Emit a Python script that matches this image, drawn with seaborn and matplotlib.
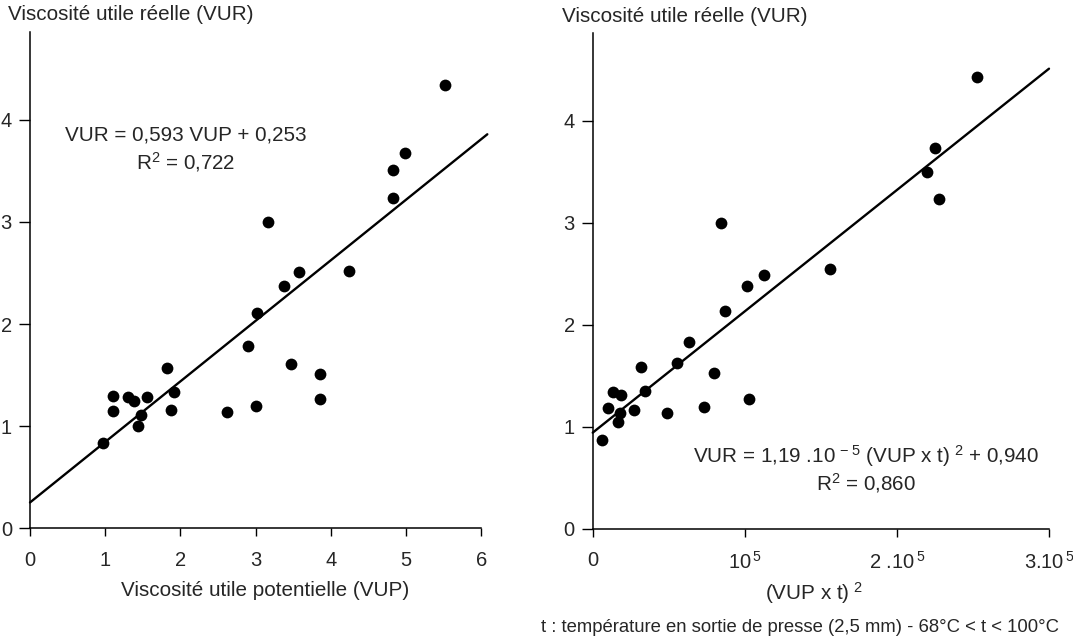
import numpy as np
import pandas as pd
import matplotlib
matplotlib.use("Agg")
import matplotlib.pyplot as plt
import seaborn as sns

# ---- data ----
vup = [0.97, 1.1, 1.1, 1.3, 1.38, 1.43, 1.48, 1.55, 1.82, 1.88, 1.92, 2.62, 2.9,
       3.0, 3.02, 3.17, 3.38, 3.47, 3.57, 3.85, 3.86, 4.24, 4.82, 4.83, 4.99, 5.52]
vur_left = [0.84, 1.30, 1.15, 1.29, 1.25, 1.0, 1.11, 1.29, 1.57, 1.16, 1.33, 1.14, 1.79,
            1.2, 2.11, 3.0, 2.37, 1.61, 2.51, 1.51, 1.27, 2.52, 3.51, 3.23, 3.68, 4.34]

vupt2 = [6100, 10300, 13600, 16400, 18400, 18000, 27000, 32000, 34600, 49100, 55200,
         63100, 73200, 80000, 87200, 84600, 101600, 102600, 112800, 155800, 219600,
         224800, 227500, 252500]
vur_right = [0.87, 1.18, 1.34, 1.04, 1.31, 1.13, 1.16, 1.58, 1.35, 1.13, 1.62, 1.83,
             1.19, 1.53, 2.13, 3.0, 2.38, 1.27, 2.49, 2.55, 3.5, 3.73, 3.23, 4.43]

slope_left, intercept_left = 0.593, 0.253
slope_right, intercept_right = 1.19e-5, 0.940
fit_range_left = [0, 6.08]
fit_range_right = [0, 3.0e5]

left_xticks = [0, 1, 2, 3, 4, 5, 6]
left_xticklabels = ["0", "1", "2", "3", "4", "5", "6"]
right_xticks = [0, 1e5, 2e5, 3e5]
right_xticklabels = ["0", "10$^{\\,5}$", "2 .10$^{\\,5}$", "3.10$^{\\,5}$"]
yticks = [0, 1, 2, 3, 4]

eq_left = ["VUR = 0,593 VUP + 0,253", "R$^{2}$ = 0,722"]
eq_right = ["VUR = 1,19 .10$^{\\,-5}$ (VUP x t)$^{\\,\\,2}$ + 0,940", "R$^{2}$ = 0,860"]
ylabel_text = "Viscosité utile réelle (VUR)"
xlabel_left = "Viscosité utile potentielle (VUP)"
xlabel_right = "(VUP x t)$^{\\,\\,2}$"
footnote = "t : température en sortie de presse (2,5 mm) - 68°C < t < 100°C"

# ---- style ----
sns.set_theme(style="ticks")
plt.rcParams["font.family"] = ["Liberation Sans", "DejaVu Sans"]
plt.rcParams["mathtext.fontset"] = "custom"
plt.rcParams["mathtext.rm"] = "Liberation Sans"
plt.rcParams["mathtext.default"] = "regular"
FS = 14.9
TFS = 14.5

fig = plt.figure(figsize=(10.73, 6.39), dpi=100)
W, H = 1073, 639

def axes_px(x0, x1, y0, y1):
    return fig.add_axes([x0 / W, 1 - y0 / H, (x1 - x0) / W, (y0 - y1) / H])

ax1 = axes_px(30, 481.3, 528.3, 32)
ax2 = axes_px(592.7, 1049, 528.5, 33)

dfl = pd.DataFrame({"x": vup, "y": vur_left})
dfr = pd.DataFrame({"x": vupt2, "y": vur_right})

for ax, df, slope, icpt, rng in [(ax1, dfl, slope_left, intercept_left, fit_range_left),
                                 (ax2, dfr, slope_right, intercept_right, fit_range_right)]:
    xf = np.array(rng, dtype=float)
    sns.lineplot(x=xf, y=slope * xf + icpt, ax=ax, color="black", lw=1.7)
    for l in ax.lines:
        l.set_clip_on(False)
    sns.scatterplot(data=df, x="x", y="y", ax=ax, color="black", s=72,
                    edgecolor="black", linewidth=0, marker="o", zorder=3)
    ax.set_xlabel("")
    ax.set_ylabel("")
    sns.despine(ax=ax)
    for s in ["left", "bottom"]:
        ax.spines[s].set_linewidth(1.1)
        ax.spines[s].set_color("black")
    ax.set_yticks(yticks)
    ax.set_yticklabels([str(v) for v in yticks])
    ax.tick_params(axis="y", length=8, width=1.0, pad=5, labelsize=TFS, color="black")
    ax.tick_params(axis="x", length=6, width=1.0, pad=10, labelsize=TFS, color="black")
    ax.set_ylim(0, 4.86)
    ax.patch.set_alpha(0)

ax1.set_xlim(0, 6)
ax1.set_xticks(left_xticks)
ax1.set_xticklabels(left_xticklabels)
ax2.set_xlim(0, 3e5)
ax2.set_xticks(right_xticks)
ax2.set_xticklabels(right_xticklabels)

# equations
ax1.text(2.07, 3.85, eq_left[0], ha="center", va="center", fontsize=FS)
ax1.text(2.07, 3.59, eq_left[1], ha="center", va="center", fontsize=FS)
ax2.text(1.795e5, 0.71, eq_right[0], ha="center", va="center", fontsize=FS)
ax2.text(1.795e5, 0.45, eq_right[1], ha="center", va="center", fontsize=FS)

# labels
fig.text(8 / W, 1 - 15 / H, ylabel_text, ha="left", va="center", fontsize=FS)
fig.text(561.7 / W, 1 - 17 / H, ylabel_text, ha="left", va="center", fontsize=FS)
fig.text(265 / W, 1 - 590 / H, xlabel_left, ha="center", va="center", fontsize=FS)
fig.text(814 / W, 1 - 593 / H, xlabel_right, ha="center", va="center", fontsize=FS)
fig.text(800 / W, 1 - 628 / H, footnote, ha="center", va="center", fontsize=13.3)

fig.savefig("out.png", dpi=100, facecolor="white")
